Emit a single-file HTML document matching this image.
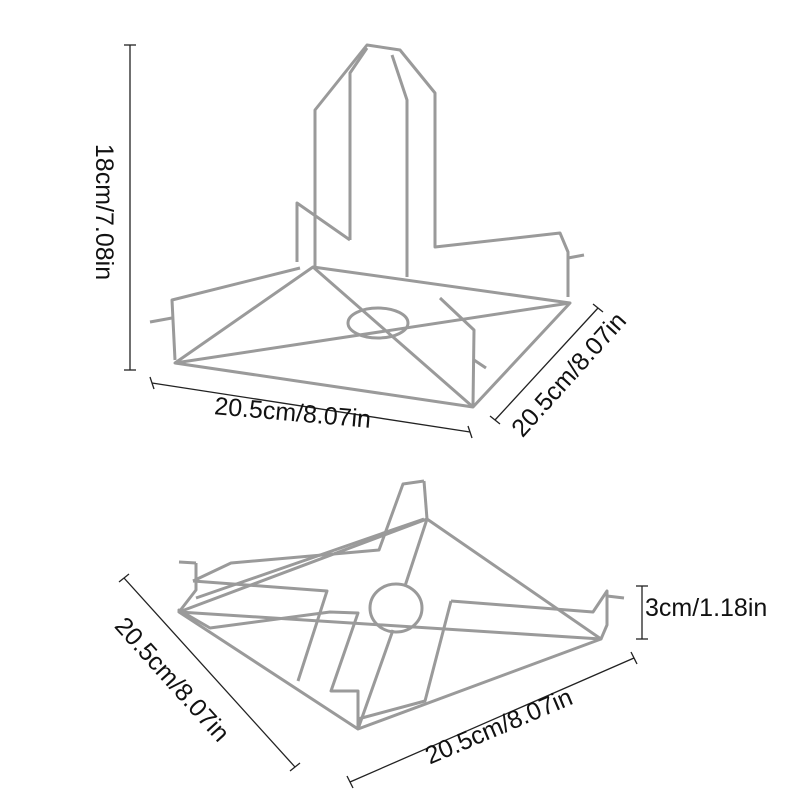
<!DOCTYPE html>
<html><head><style>
html,body{margin:0;padding:0;background:#fff;}
svg{display:block}
text{font-family:"Liberation Sans",sans-serif;fill:#111;font-size:25px}
</style></head><body>
<svg width="800" height="800" viewBox="0 0 800 800">
<g stroke="#222" stroke-width="1.3" fill="none">
<line x1="130" y1="45" x2="130" y2="370"/><line x1="124" y1="45" x2="136" y2="45"/><line x1="124" y1="370" x2="136" y2="370"/>
<line x1="152" y1="383" x2="470" y2="432"/><line x1="150" y1="377" x2="154" y2="389"/><line x1="468" y1="426" x2="472" y2="438"/>
<line x1="495" y1="420" x2="598" y2="308"/><line x1="490" y1="416" x2="500" y2="424"/><line x1="593" y1="304" x2="603" y2="312"/>
<line x1="124" y1="578" x2="295" y2="767"/><line x1="119" y1="582" x2="129" y2="574"/><line x1="290" y1="771" x2="300" y2="763"/>
<line x1="350" y1="782" x2="634" y2="658"/><line x1="347" y1="776" x2="353" y2="788"/><line x1="631" y1="652" x2="637" y2="664"/>
<line x1="642" y1="586" x2="642" y2="639"/><line x1="636" y1="586" x2="648" y2="586"/><line x1="636" y1="639" x2="648" y2="639"/>
</g>
<text x="0" y="0" transform="translate(96,212) rotate(90)" text-anchor="middle">18cm/7.08in</text>
<text x="0" y="0" transform="translate(292,421) rotate(5)" text-anchor="middle">20.5cm/8.07in</text>
<text x="0" y="0" transform="translate(575,380) rotate(-48)" text-anchor="middle">20.5cm/8.07in</text>
<text x="0" y="0" transform="translate(166,685) rotate(48)" text-anchor="middle">20.5cm/8.07in</text>
<text x="0" y="0" transform="translate(502,734) rotate(-23)" text-anchor="middle">20.5cm/8.07in</text>
<text x="645" y="616">3cm/1.18in</text>
<g stroke="#9a9a9a" stroke-width="3" fill="none" stroke-linejoin="round">
<!-- top rack base -->
<polygon points="175,363 313,267 570,303 473,407"/>
<line x1="175" y1="363" x2="570" y2="303"/>
<line x1="313" y1="267" x2="473" y2="407"/>
<ellipse cx="378" cy="323" rx="30" ry="15"/>
<polyline points="175,360 172,300 300,268"/>
<line x1="150" y1="322" x2="172" y2="318"/>
<polyline points="473,405 474,330 440,298"/>
<line x1="474" y1="360" x2="486" y2="368"/>
<!-- uprights -->
<polyline points="315,267 315,110 367,45 400,50 435,93 435,247 560,233 568,252 568,297"/>
<polyline points="350,240 350,73 367,48"/>
<polyline points="407,277 407,100 392,55"/>
<polyline points="297,262 297,203 350,240"/>
<line x1="568" y1="258" x2="584" y2="255"/>
<!-- bottom rack -->
<polygon points="427,519 601,639 358,729 179,612"/>
<line x1="179" y1="612" x2="601" y2="639"/>
<line x1="427" y1="519" x2="405" y2="586"/>
<line x1="393" y1="630" x2="358" y2="729"/>
<ellipse cx="396" cy="608" rx="26" ry="24"/>
<polyline points="193,581 231,563 379,550 403,484 424,481"/>
<line x1="424" y1="481" x2="427" y2="519"/>
<line x1="424" y1="519" x2="196" y2="598"/>
<line x1="179" y1="562" x2="196" y2="563"/>
<polyline points="196,563 196,590 179,612"/>
<polyline points="193,581 327,591 298,681"/>
<polyline points="179,612 179,610 210,628 330,612 358,613 331,691 358,691 358,729"/>
<polyline points="451,601 425,701 358,719"/>
<polyline points="451,601 593,612 607,591 607,625 601,639"/>
<line x1="607" y1="596" x2="624" y2="598"/>
</g>
</svg>
</body></html>
